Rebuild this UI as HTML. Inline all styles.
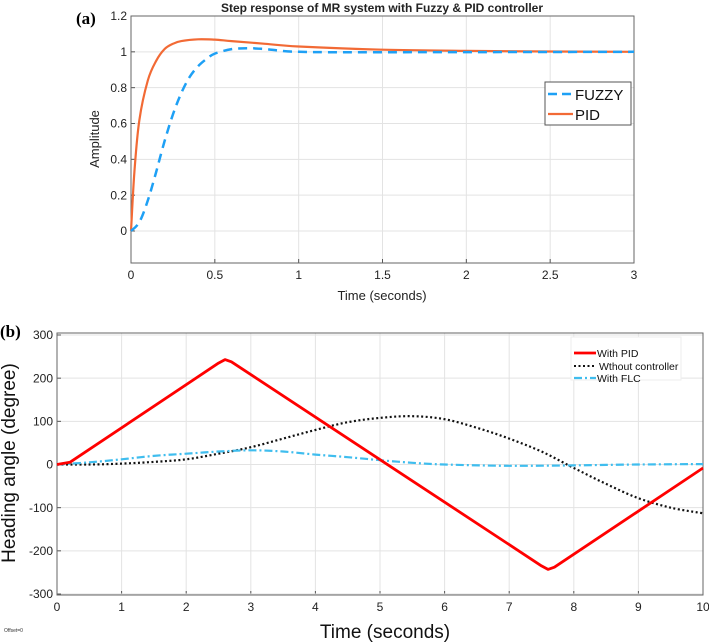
<!DOCTYPE html>
<html><head><meta charset="utf-8"><style>
body{margin:0;background:#fff;}
svg{display:block;font-family:"Liberation Sans",sans-serif;}
</style></head><body>
<svg id="c" width="709" height="643" viewBox="0 0 709 643"></svg>
<script>
// Panel (a) data
const aPidT=[0,0.02,0.05,0.1,0.15,0.2,0.25,0.3,0.4,0.5,0.6,0.8,1,1.5,2,2.5,3];
const aPidV=[0,0.33,0.62,0.84,0.95,1.015,1.045,1.06,1.07,1.068,1.06,1.045,1.03,1.012,1.005,1.002,1.0];
const aFzT=[0,0.05,0.1,0.15,0.2,0.25,0.3,0.35,0.4,0.45,0.5,0.6,0.7,0.8,1,1.5,3];
const aFzV=[0,0.05,0.17,0.33,0.5,0.65,0.77,0.86,0.92,0.96,0.99,1.015,1.02,1.015,1.0,0.998,1.0];
const aXTicks=[0,0.5,1,1.5,2,2.5,3];
const aYTicks=[0,0.2,0.4,0.6,0.8,1,1.2];
// Panel (b) data
const bPidT=[0,0.2,2.5,2.6,2.7,7.5,7.6,7.7,10];
const bPidV=[0,5,235,243,238,-235,-243,-238,-8];
const bNoT=[0,0.5,1,1.5,2,2.5,3,3.5,4,4.5,5,5.5,6,6.5,7,7.5,8,8.5,9,9.5,10];
const bNoV=[0,0,2,6,12,25,40,60,80,98,108,112,105,85,60,30,-8,-45,-78,-100,-113];
const bFlcT=[0,0.5,1,1.5,2,2.5,3,3.5,4,4.5,5,5.5,6,7,8,9,10];
const bFlcV=[0,5,12,20,25,30,33,30,23,17,10,4,0,-3,-2,0,1];
const bXTicks=[0,1,2,3,4,5,6,7,8,9,10];
const bYTicks=[-300,-200,-100,0,100,200,300];

const svg=document.getElementById('c');
const NS='http://www.w3.org/2000/svg';
function mk(tag,attrs,parent){const e=document.createElementNS(NS,tag);for(const k in attrs)e.setAttribute(k,attrs[k]);(parent||svg).appendChild(e);return e;}
function smoothPath(P){
  let d='M'+P[0][0].toFixed(1)+','+P[0][1].toFixed(1);
  for(let i=0;i<P.length-1;i++){
    const p0=P[i-1]||P[i],p1=P[i],p2=P[i+1],p3=P[i+2]||P[i+1];
    const c1=[p1[0]+(p2[0]-p0[0])/6,p1[1]+(p2[1]-p0[1])/6];
    const c2=[p2[0]-(p3[0]-p1[0])/6,p2[1]-(p3[1]-p1[1])/6];
    d+=' C'+c1[0].toFixed(1)+','+c1[1].toFixed(1)+' '+c2[0].toFixed(1)+','+c2[1].toFixed(1)+' '+p2[0].toFixed(1)+','+p2[1].toFixed(1);
  }
  return d;
}

function panel(o){
  const g=mk('g',{});
  
  
  const sx=v=>o.x0+(v-o.xmin)/(o.xmax-o.xmin)*(o.x1-o.x0);
  const sy=v=>o.y0-(v-o.ymin)/(o.ymax-o.ymin)*(o.y0-o.y1);
  const top=o.top, bot=o.bot;
  mk('rect',{x:o.x0,y:top,width:o.x1-o.x0,height:bot-top,fill:'#fff'},g);
  o.xt.forEach(t=>{const x=sx(t);
    const l=mk('line',{x1:x,x2:x,y1:top,y2:bot,stroke:'#e3e3e3','stroke-width':1},g);
    
    mk('line',{x1:x,x2:x,y1:bot,y2:bot-4,stroke:'#555'},g);
    const tx=mk('text',{x:x,y:bot+o.tfs+4,'text-anchor':'middle','font-size':o.tfs,fill:'#222'},g);
    tx.textContent=t;
  });
  o.yt.forEach(t=>{const y=sy(t);
    const l=mk('line',{x1:o.x0,x2:o.x1,y1:y,y2:y,stroke:'#e3e3e3','stroke-width':1},g);
    
    mk('line',{x1:o.x0,x2:o.x0+4,y1:y,y2:y,stroke:'#555'},g);
    const tx=mk('text',{x:o.x0-4,y:y+o.tfs*0.35,'text-anchor':'end','font-size':o.tfs,fill:'#222'},g);
    tx.textContent=t;
  });
  const fr=mk('rect',{x:o.x0,y:top,width:o.x1-o.x0,height:bot-top,fill:'none',stroke:'#666','stroke-width':1},g);
  
  o.series.forEach(s=>{
    const P=s.t.map((t,i)=>[sx(t),sy(s.v[i])]);
    const d=s.lin?('M'+P.map(p=>p[0].toFixed(1)+','+p[1].toFixed(1)).join(' L')):smoothPath(P);
    const p=mk('path',{d:d,fill:'none',stroke:s.c,'stroke-width':s.w,'stroke-dasharray':s.d||'','stroke-linejoin':'round'},g);
    
  });
  return g;
}

panel({name:'panel-a',x0:131,x1:634,xmin:0,xmax:3,y0:231,y1:16,ymin:0,ymax:1.2,top:16,bot:263,xt:aXTicks,yt:aYTicks,tfs:12,
 series:[{n:'pid-line',t:aPidT,v:aPidV,c:'#f26a35',w:2.2},{n:'fuzzy-line',t:aFzT,v:aFzV,c:'#1ea0f5',w:2.5,d:'9,6'}]});
panel({name:'panel-b',x0:57,x1:703,xmin:0,xmax:10,y0:594,y1:335,ymin:-300,ymax:300,top:333,bot:595,xt:bXTicks,yt:bYTicks,tfs:12,
 series:[{n:'no-controller-line',t:bNoT,v:bNoV,c:'#111',w:2.2,d:'2,2.5'},{n:'flc-line',t:bFlcT,v:bFlcV,c:'#3fbdee',w:2.2,d:'8,3,2,3'},{n:'pid-line-b',t:bPidT,v:bPidV,c:'#ff0000',w:2.8,lin:true}]});

function txt(s,a,n){const t=mk('text',a);t.textContent=s;return t;}
txt('Step response of MR system with Fuzzy & PID controller',{x:382,y:12,'text-anchor':'middle','font-size':12,'font-weight':'bold',fill:'#222'},'chart-a-title');
txt('(a)',{x:76,y:24,'font-size':17,'font-weight':'bold','font-family':'Liberation Serif, serif'},'panel-a-label');
txt('(b)',{x:0,y:337,'font-size':17,'font-weight':'bold','font-family':'Liberation Serif, serif'},'panel-b-label');
txt('Time (seconds)',{x:382,y:300,'text-anchor':'middle','font-size':13,fill:'#222'},'x-axis-title-a');
txt('Amplitude',{x:0,y:0,'text-anchor':'middle','font-size':13,fill:'#222',transform:'translate(99,139) rotate(-90)'},'y-axis-title-a');
txt('Time (seconds)',{x:385,y:638,'text-anchor':'middle','font-size':19,fill:'#111'},'x-axis-title-b');
txt('Heading angle (degree)',{x:0,y:0,'text-anchor':'middle','font-size':19,fill:'#111',transform:'translate(15,463) rotate(-90)'},'y-axis-title-b');
txt('Offset=0',{x:4,y:632,'font-size':5,fill:'#333'},'offset-note');

// legend a
const la=mk('g',{});
mk('rect',{x:545,y:82,width:86,height:43,fill:'#fff',stroke:'#555'},la);
mk('line',{x1:548,x2:573,y1:94,y2:94,stroke:'#1ea0f5','stroke-width':2.5,'stroke-dasharray':'9,5'},la);
mk('line',{x1:548,x2:573,y1:114,y2:114,stroke:'#f26a35','stroke-width':2.2},la);
const t1=mk('text',{x:575,y:100,'font-size':15,fill:'#111'},la);t1.textContent='FUZZY';
const t2=mk('text',{x:575,y:120,'font-size':15,fill:'#111'},la);t2.textContent='PID';
// legend b
const lb=mk('g',{});
mk('rect',{x:571,y:337,width:110,height:43,fill:'#fff',stroke:'#eee'},lb);
mk('line',{x1:574,x2:596,y1:353,y2:353,stroke:'#ff0000','stroke-width':2.8},lb);
mk('line',{x1:574,x2:596,y1:366,y2:366,stroke:'#111','stroke-width':2,'stroke-dasharray':'2,2.5'},lb);
mk('line',{x1:574,x2:596,y1:378,y2:378,stroke:'#3fbdee','stroke-width':2.2,'stroke-dasharray':'8,3,2,3'},lb);
[['With PID',597,357],[' Wthout controller',599,370],['With FLC',597,382]].forEach(a=>{const t=mk('text',{x:a[1],y:a[2],'font-size':10.5,fill:'#111'},lb);t.textContent=a[0];});
</script>
</body></html>
